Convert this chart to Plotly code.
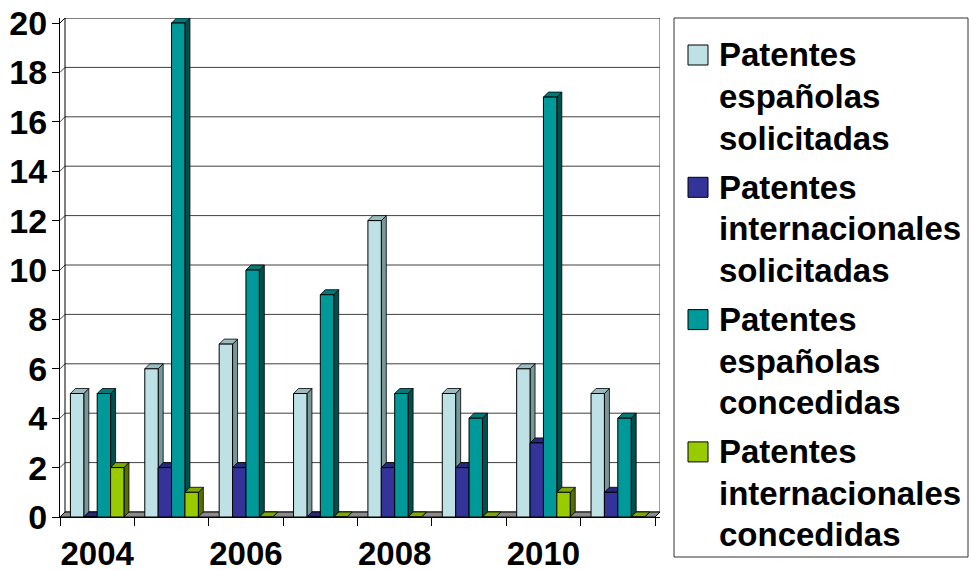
import plotly.graph_objects as go

# ---------------- data ----------------
years = [2004, 2005, 2006, 2007, 2008, 2009, 2010, 2011]
esp_solicitadas = [5, 6, 7, 5, 12, 5, 6, 5]
int_solicitadas = [0, 2, 2, 0, 2, 2, 3, 1]
esp_concedidas = [5, 20, 10, 9, 5, 4, 17, 4]
int_concedidas = [2, 1, 0, 0, 0, 0, 1, 0]
series_names = [
    "Patentes españolas solicitadas",
    "Patentes internacionales solicitadas",
    "Patentes españolas concedidas",
    "Patentes internacionales concedidas",
]
y_ticks = list(range(0, 21, 2))
x_tick_labels = [str(y) for y in years[::2]]

series_values = [esp_solicitadas, int_solicitadas, esp_concedidas, int_concedidas]
front_colors = ["#BDE1E4", "#333399", "#009999", "#99CC00"]
top_colors = ["#9BBDC0", "#28287A", "#007A7A", "#7FA800"]
side_colors = ["#78979A", "#1E1E5C", "#004F4F", "#557000"]

# ---------------- geometry ----------------
W, H = 969, 570
L, R, T, B = 60, 309, 18, 53
PW, PH = W - L - R, H - T - B
n = len(years)
DX = 5 / (595 / n)        # depth offset (x units)
DY = 5 / (494 / 20)       # depth offset (y units)
X_MIN, X_MAX = -0.5, n - 0.5 + DX
Y_MAX = 20 + DY
BW = 0.18

FONT = "Liberation Sans, Arial, sans-serif"

def px_x(px):
    return (px - L) / PW

def px_y(py):
    return (H - B - py) / PH

fig = go.Figure()
shapes = []
line_k = dict(color="black", width=1)
line_g = dict(color="#404040", width=1)

# back wall gridlines and left wall
for v in y_ticks:
    lg = line_k if v == y_ticks[-1] else line_g
    shapes.append(dict(type="line", xref="x", yref="y", layer="below",
                       x0=X_MIN + DX, x1=X_MAX, y0=v + DY, y1=v + DY, line=lg))
    shapes.append(dict(type="line", xref="x", yref="y", layer="below",
                       x0=X_MIN, x1=X_MIN + DX, y0=v, y1=v + DY, line=lg))
shapes.append(dict(type="line", xref="x", yref="y", layer="below",
                   x0=X_MIN + DX, x1=X_MIN + DX, y0=DY, y1=20 + DY, line=line_k))
shapes.append(dict(type="line", xref="x", yref="y", layer="below",
                   x0=X_MAX, x1=X_MAX, y0=DY, y1=20 + DY, line=line_g))
# floor
shapes.append(dict(type="path", xref="x", yref="y", layer="below",
                   path=f"M {X_MIN},0 L {n-0.5},0 L {X_MAX},{DY} L {X_MIN+DX},{DY} Z",
                   fillcolor="#8C8C8C", line=line_k))

# 3D faces of bars
for i in range(n):
    for k, vals in enumerate(series_values):
        v = vals[i]
        x0 = i - 2 * BW + k * BW
        x1 = x0 + BW
        shapes.append(dict(type="path", xref="x", yref="y", layer="below",
                           path=f"M {x1},0 L {x1+DX},{DY} L {x1+DX},{v+DY} L {x1},{v} Z",
                           fillcolor=side_colors[k], line=dict(color="black", width=0.8)))
        shapes.append(dict(type="path", xref="x", yref="y", layer="below",
                           path=f"M {x0},{v} L {x1},{v} L {x1+DX},{v+DY} L {x0+DX},{v+DY} Z",
                           fillcolor=top_colors[k], line=dict(color="black", width=0.8)))

# front faces
for k, vals in enumerate(series_values):
    fig.add_trace(go.Bar(
        x=list(range(n)), y=vals, width=BW, offset=-2 * BW + k * BW,
        name=series_names[k], showlegend=False,
        marker=dict(color=front_colors[k], line=dict(color="black", width=1)),
    ))

# manual legend
annotations = []
shapes.append(dict(type="rect", xref="paper", yref="paper",
                   x0=px_x(674), x1=px_x(968), y0=px_y(557), y1=px_y(18),
                   line=dict(color="#333333", width=1), fillcolor="white", layer="above"))
for k, name in enumerate(series_names):
    cy = 55 + k * 132.3
    shapes.append(dict(type="rect", xref="paper", yref="paper",
                       x0=px_x(688), x1=px_x(708), y0=px_y(cy + 10), y1=px_y(cy - 10),
                       fillcolor=front_colors[k], line=dict(color="black", width=1),
                       layer="above"))
    for j, word in enumerate(name.split()):
        annotations.append(dict(
            xref="paper", yref="paper", x=px_x(717), y=px_y(cy + j * 41.5),
            xanchor="left", yanchor="middle", showarrow=False, text=word,
            font=dict(family=FONT, size=33, color="black", weight="bold"),
        ))

fig.update_layout(
    width=W, height=H,
    margin=dict(l=L, r=R, t=T, b=B, pad=0, autoexpand=False),
    paper_bgcolor="white", plot_bgcolor="white",
    barmode="overlay",
    shapes=shapes, annotations=annotations,
    xaxis=dict(range=[X_MIN, X_MAX], tickvals=[0, 2, 4, 6], ticktext=x_tick_labels,
               ticks="", showgrid=False, zeroline=False, showline=True, automargin=False,
               linecolor="black", linewidth=1, ticklabelstandoff=7,
               tickfont=dict(family=FONT, size=33, color="black", weight="bold"),
               minor=dict(tick0=-0.5, dtick=1, ticks="outside", ticklen=8,
                          tickcolor="black", showgrid=False)),
    yaxis=dict(range=[0, Y_MAX], tickvals=y_ticks, ticks="outside", ticklen=7,
               tickcolor="black", showgrid=False, zeroline=False, showline=True,
               automargin=False,
               linecolor="black", linewidth=1, ticklabelstandoff=-2,
               tickfont=dict(family=FONT, size=34, color="black", weight="bold")),
)

fig.write_html("out.html", config={"displayModeBar": False},
               post_script="document.body.style.margin='0';document.body.style.overflow='hidden';")
